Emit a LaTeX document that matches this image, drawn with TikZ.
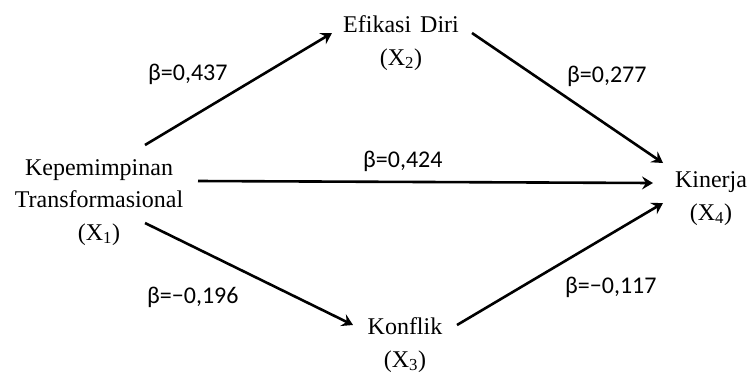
\documentclass[tikz,border=0pt]{standalone}
\usepackage{fontspec}
\setmainfont{Liberation Serif}
\newfontfamily\lblfont{Carlito}
\usetikzlibrary{arrows.meta}
\begin{document}
\begin{tikzpicture}[x=1bp,y=-1bp,
  var/.style={font=\fontsize{24bp}{32.5bp}\selectfont, align=center, inner sep=0pt, anchor=base},
  coef/.style={font={\lblfont\fontsize{24bp}{28bp}\selectfont}, inner sep=0pt, anchor=base west},
  arr/.style={line width=2.6bp, -{Stealth[length=11bp,width=13bp,inset=4bp]}}]
\useasboundingbox (0,0) rectangle (749,373);
% variables (anchor base = baseline of the last line)
\node[var] (x1) at (99,240) {Kepemimpinan\\Transformasional\\(X\textsubscript{1})};
\node[var] (x2) at (401,65) {Efikasi\hspace{9bp}Diri\\(X\textsubscript{2})};
\node[var] (x3) at (405,367) {Konflik\\(X\textsubscript{3})};
\node[var] (x4) at (711,220) {Kinerja\\(X\textsubscript{4})};
% arrow end points
\coordinate (a1) at (145,145); \coordinate (a2) at (332,33);
\coordinate (b1) at (472,33);  \coordinate (b2) at (663,163);
\coordinate (c1) at (198,181); \coordinate (c2) at (653,183);
\coordinate (d1) at (145,223); \coordinate (d2) at (353,325);
\coordinate (e1) at (457,325); \coordinate (e2) at (663,203);
\draw[arr] (a1) -- (a2);
\draw[arr] (b1) -- (b2);
\draw[arr] (c1) -- (c2);
\draw[arr] (d1) -- (d2);
\draw[arr] (e1) -- (e2);
% coefficients
\node[coef] (l12) at (148,80) {β=0,437};
\node[coef] (l24) at (567,82) {β=0,277};
\node[coef] (l14) at (363,167) {β=0,424};
\node[coef] (l13) at (147,303) {β=−0,196};
\node[coef] (l34) at (565,293) {β=−0,117};
\end{tikzpicture}
\end{document}
